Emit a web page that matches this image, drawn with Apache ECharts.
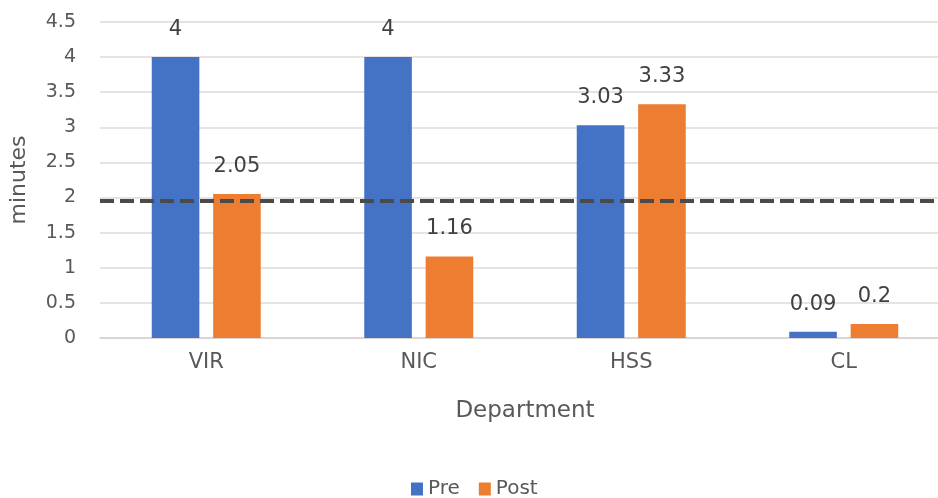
<!DOCTYPE html>
<html>
<head>
<meta charset="utf-8">
<script src="https://cdn.jsdelivr.net/npm/echarts@6/dist/echarts.min.js"></script>
<style>
  html, body { margin: 0; padding: 0; background: #fff; overflow: hidden; }
  /* the plot area runs past the right edge of the page, so the canvas is a bit wider than the window */
  #chart { width: 960px; height: 498px; }
</style>
</head>
<body>
<div id="chart"></div>
<script>
// Department timings, before and after the change
const departments = ['VIR', 'NIC', 'HSS', 'CL'];
const preValues = [4, 4, 3.03, 0.09];
const postValues = [2.05, 1.16, 3.33, 0.2];
const targetLine = 1.95;
const yTicks = { min: 0, max: 4.5, interval: 0.5 };

const FONT = '"DejaVu Sans", "Open Sans", sans-serif';
const TEXT = '#595959';

const chart = echarts.init(document.getElementById('chart'), null, { renderer: 'canvas' });

const labelStyle = {
  show: true,
  position: 'top',
  distance: 17,
  fontFamily: FONT,
  fontSize: 21,
  color: '#404040'
};

chart.setOption({
  animation: false,
  backgroundColor: '#ffffff',
  grid: { left: 97, width: 853, top: 22, bottom: 160, containLabel: false },
  legend: {
    top: 474,
    left: 406,
    itemWidth: 12,
    itemHeight: 13,
    itemGap: 19,
    icon: 'rect',
    textStyle: { fontFamily: FONT, fontSize: 20, color: TEXT },
    data: ['Pre', 'Post']
  },
  xAxis: {
    type: 'category',
    data: departments,
    name: 'Department',
    nameLocation: 'middle',
    nameGap: 62,
    nameTextStyle: { fontFamily: FONT, fontSize: 23, color: TEXT },
    axisLine: { lineStyle: { color: '#d6cfcd', width: 1.5 } },
    axisTick: { show: false },
    axisLabel: { fontFamily: FONT, fontSize: 21, color: TEXT, margin: 14 }
  },
  yAxis: {
    type: 'value',
    min: yTicks.min,
    max: yTicks.max,
    interval: yTicks.interval,
    name: 'minutes',
    nameLocation: 'middle',
    nameGap: 70,
    nameRotate: 90,
    nameTextStyle: { fontFamily: FONT, fontSize: 22, color: TEXT },
    axisLine: { show: false },
    axisTick: { show: false },
    axisLabel: { fontFamily: FONT, fontSize: 19, color: TEXT, margin: 24 },
    splitLine: { lineStyle: { color: '#e2d9d8', width: 1.5 } }
  },
  series: [
    {
      name: 'Pre',
      type: 'bar',
      data: preValues,
      barWidth: '22.4%',
      barGap: '29%',
      itemStyle: { color: '#4472C4' },
      label: labelStyle,
      markLine: {
        silent: true,
        symbol: ['none', 'none'],
        label: { show: false },
        lineStyle: { color: '#4a4a4a', width: 4, type: [14, 6] },
        data: [{ yAxis: targetLine }]
      }
    },
    {
      name: 'Post',
      type: 'bar',
      data: postValues,
      barWidth: '22.4%',
      itemStyle: { color: '#ED7D31' },
      label: labelStyle
    }
  ]
});
</script>
</body>
</html>
